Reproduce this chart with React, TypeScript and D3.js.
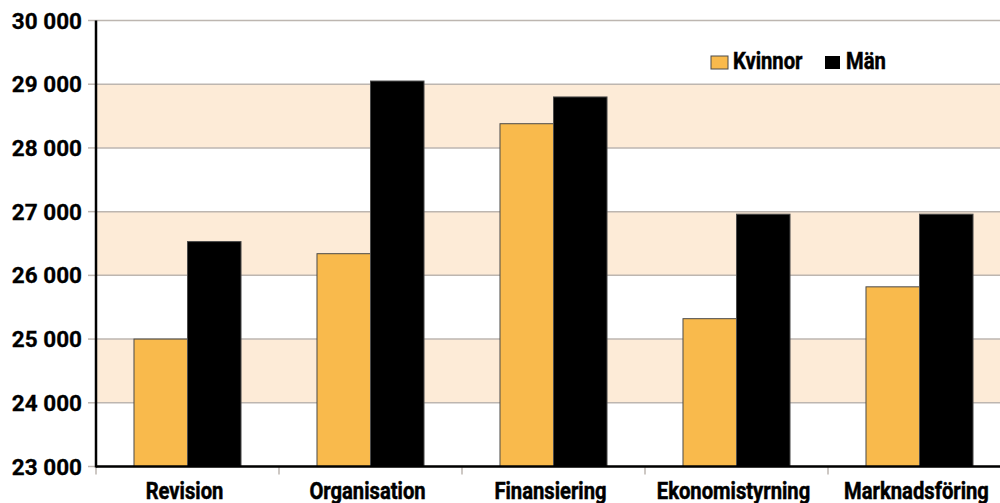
import React from "react";
import * as d3 from "d3";

const categories = ["Revision", "Organisation", "Finansiering", "Ekonomistyrning", "Marknadsföring"];
const seriesNames = ["Kvinnor", "Män"];
const kvinnor = [25000, 26340, 28380, 25320, 25820];
const man = [26530, 29050, 28800, 26960, 26960];
const yTicks = [23000, 24000, 25000, 26000, 27000, 28000, 29000, 30000];
const colors = ["#F9BA4C", "#000000"];

const W = 1000;
const H = 503;
const left = 96;
const right = 1011;
const top = 20.5;
const bottom = 466.5;

const condensed = "Roboto, 'Liberation Sans', Arial, sans-serif";

export default function App() {
  const x = d3.scaleBand<string>().domain(categories).range([left, right]).paddingInner(0).paddingOuter(0);
  const inner = d3.scaleBand<string>().domain(seriesNames).range([0, x.bandwidth()]).paddingOuter(0.71).paddingInner(0);
  const y = d3.scaleLinear().domain([23000, 30000]).range([bottom, top]);
  const fmt = (v: number) => d3.format(",")(v).replace(/,/g, " ");
  const values = [kvinnor, man];
  const bands = [24000, 26000, 28000];

  return (
    <svg width={W} height={H} style={{ position: "absolute", left: 0, top: 0, background: "#fff" }}>
      {bands.map((b) => (
        <rect key={b} x={left} y={y(b + 1000)} width={right - left} height={y(b) - y(b + 1000)} fill="#FDEBD7" />
      ))}
      {yTicks.map((t) => (
        <g key={t}>
          <line x1={left} x2={right} y1={y(t)} y2={y(t)} stroke="#BDB6B0" strokeWidth={1.5} />
          <line x1={88} x2={left} y1={y(t)} y2={y(t)} stroke="#BDB6B0" strokeWidth={1.5} />
          <text x={82} y={y(t)} dy="0.36em" textAnchor="end" fontFamily="Roboto, Arial, sans-serif" fontWeight={700} fontSize={22.5} fill="#000" stroke="#000" strokeWidth={0.3}>
            {fmt(t)}
          </text>
        </g>
      ))}
      {categories.map((c, i) =>
        seriesNames.map((s, j) => (
          <rect
            key={c + s}
            x={(x(c) as number) + (inner(s) as number)}
            y={y(values[j][i])}
            width={inner.bandwidth()}
            height={bottom - y(values[j][i])}
            fill={colors[j]}
            stroke="#4a4a4a"
            strokeWidth={1}
          />
        ))
      )}
      {categories.map((c) => (
        <line key={"t" + c} x1={x(c) as number} x2={x(c) as number} y1={bottom} y2={bottom + 8} stroke="#BDB6B0" strokeWidth={1.5} />
      ))}
      <line x1={left} x2={left} y1={top} y2={bottom + 1} stroke="#000" strokeWidth={2.5} />
      <line x1={left} x2={right} y1={bottom} y2={bottom} stroke="#000" strokeWidth={2.5} />
      {categories.map((c) => (
        <text
          key={"l" + c}
          transform={`translate(${(x(c) as number) + x.bandwidth() / 2 - 3},498.5) scale(0.86,1)`}
          textAnchor="middle"
          fontFamily={condensed}
          fontWeight={700}
          fontSize={23.5}
          fill="#000"
          stroke="#000"
          strokeWidth={0.5}
        >
          {c}
        </text>
      ))}
      <g>
        <rect x={711} y={56} width={17} height={13} fill={colors[0]} stroke="#4a4a4a" strokeWidth={1} />
        <text transform="translate(733,69) scale(0.86,1)" fontFamily={condensed} fontWeight={700} fontSize={23.5} fill="#000" stroke="#000" strokeWidth={0.5}>
          {seriesNames[0]}
        </text>
        <rect x={825} y={56} width={15} height={13} fill={colors[1]} />
        <text transform="translate(846,69) scale(0.86,1)" fontFamily={condensed} fontWeight={700} fontSize={23.5} fill="#000" stroke="#000" strokeWidth={0.5}>
          {seriesNames[1]}
        </text>
      </g>
    </svg>
  );
}
